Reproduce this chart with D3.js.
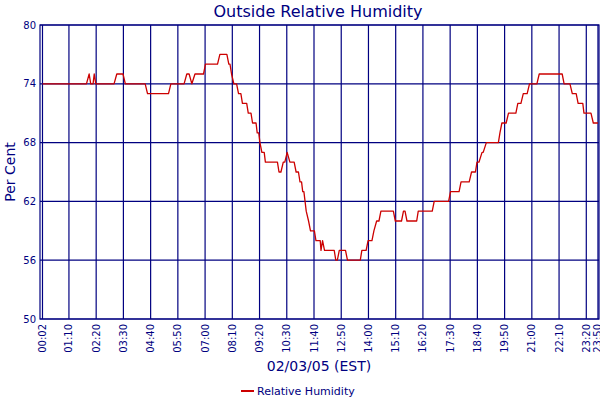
<!DOCTYPE html>
<html>
<head>
<meta charset="utf-8">
<script src="https://cdn.jsdelivr.net/npm/d3@7"></script>
<style>
  body { margin: 0; background: #fff; }
  svg { display: block; font-family: "DejaVu Sans", Verdana, sans-serif; }
</style>
</head>
<body>
<svg id="chart" width="600" height="400"></svg>
<script>
// readings, 02/03/05 (EST)
var times = ["00:02","01:55","02:02","02:06","02:12","02:15","02:19","03:06","03:13","03:29","03:35",
  "04:26","04:32","05:26","05:32","06:06","06:13","06:19","06:26","06:34","06:56","07:01","07:32","07:38",
  "07:56","08:01","08:04","08:08","08:14","08:21","08:26","08:32","08:36","08:47","08:51","08:58","09:02",
  "09:11","09:14","09:18","09:21","09:26","09:32","09:35","10:06","10:10","10:15","10:21","10:25","10:31",
  "10:38","10:49","10:54","11:00","11:04","11:08","11:11","11:14","11:17","11:20","11:26","11:31","11:41",
  "11:45","11:56","11:58","12:02","12:07","12:32","12:36","12:40","12:45","13:01","13:06","13:39","13:43",
  "13:54","13:59","14:09","14:14","14:21","14:27","14:32","15:04","15:09","15:25","15:30","15:34","15:39",
  "16:04","16:08","16:44","16:49","17:26","17:31","17:53","17:58","18:19","18:25","18:35","18:39","18:44",
  "18:52","18:55","19:03","19:34","19:38","19:43","19:54","20:00","20:19","20:24","20:32","20:38","20:48",
  "20:54","21:13","21:19","22:18","22:23","22:38","22:44","22:54","22:59","23:11","23:14","23:32","23:38","23:50"];
var humidity = [74,74,75,74,74,75,74,74,75,75,74,
  74,73,73,74,74,75,75,74,75,75,76,76,77,
  77,76,76,75,74,74,73,73,72,72,71,71,70,
  70,69,69,68,67,67,66,66,65,65,66,66,67,
  66,66,65,65,64,64,63,63,62,61,60,59,59,
  58,58,57,58,57,57,56,56,57,57,56,56,57,
  57,58,58,59,60,60,61,61,60,60,61,61,60,
  60,61,61,62,62,63,63,64,64,65,65,66,66,
  67,67,68,68,69,70,70,71,71,72,72,73,73,
  74,74,75,75,74,74,73,73,72,72,71,71,70,70];

var xTickLabels = ["00:02","01:10","02:20","03:30","04:40","05:50","07:00","08:10","09:20","10:30","11:40",
  "12:50","14:00","15:10","16:20","17:30","18:40","19:50","21:00","22:10","23:20","23:50"];
var yTicks = [50, 56, 62, 68, 74, 80];

var navy = "#000080";
var parseTime = d3.timeParse("%H:%M");
var data = times.map((t, i) => ({x: parseTime(t), y: humidity[i]}));

var svg = d3.select("#chart");
var plotLeft = 40, plotRight = 599, plotTop = 25, plotBottom = 319;

var x = d3.scaleTime()
    .domain([d3.timeSecond.offset(parseTime("00:00"), -264), d3.timeSecond.offset(parseTime("23:50"), 160)])
    .range([plotLeft, plotRight]);
var y = d3.scaleLinear()
    .domain([50, 80])
    .range([plotBottom, plotTop]);

// grid
var grid = svg.append("g").attr("stroke", navy).attr("stroke-width", 1.2);
grid.selectAll(".v").data(xTickLabels).join("line")
    .attr("x1", d => x(parseTime(d))).attr("x2", d => x(parseTime(d)))
    .attr("y1", plotTop).attr("y2", plotBottom);
grid.selectAll(".h").data(yTicks).join("line")
    .attr("x1", plotLeft).attr("x2", plotRight)
    .attr("y1", d => y(d)).attr("y2", d => y(d));
svg.append("rect")
    .attr("x", plotLeft).attr("y", plotTop)
    .attr("width", plotRight - plotLeft).attr("height", plotBottom - plotTop)
    .attr("fill", "none").attr("stroke", navy).attr("stroke-width", 1.2);

// axes labels
svg.append("g").selectAll("text").data(yTicks).join("text")
    .attr("x", plotLeft - 4).attr("y", d => y(d)).attr("dy", "0.35em")
    .attr("text-anchor", "end").attr("font-size", 10).attr("fill", navy)
    .text(d => d);

svg.append("g").selectAll("text").data(xTickLabels).join("text")
    .attr("transform", d => `translate(${x(parseTime(d))},${plotBottom + 5}) rotate(-90)`)
    .attr("dy", "0.35em").attr("text-anchor", "end")
    .attr("font-size", 10).attr("fill", navy)
    .text(d => d);

// line
var line = d3.line()
    .x(d => x(d.x))
    .y(d => y(d.y));
svg.append("path")
    .datum(data)
    .attr("fill", "none")
    .attr("stroke", "#cc0000")
    .attr("stroke-width", 1.3)
    .attr("stroke-linejoin", "round")
    .attr("d", line);

// titles
svg.append("text")
    .attr("x", 318).attr("y", 17).attr("text-anchor", "middle")
    .attr("font-size", 16).attr("fill", navy)
    .text("Outside Relative Humidity");
svg.append("text")
    .attr("transform", `translate(15,${(plotTop + plotBottom) / 2}) rotate(-90)`)
    .attr("text-anchor", "middle").attr("font-size", 14).attr("fill", navy)
    .text("Per Cent");
svg.append("text")
    .attr("x", 319).attr("y", 371).attr("text-anchor", "middle")
    .attr("font-size", 14).attr("fill", navy)
    .text("02/03/05 (EST)");

// legend
var legend = svg.append("g").attr("transform", "translate(241,391)");
legend.append("line")
    .attr("x1", 0).attr("x2", 13).attr("y1", 0).attr("y2", 0)
    .attr("stroke", "#cc0000").attr("stroke-width", 2);
legend.append("text")
    .attr("x", 16).attr("y", 4).attr("font-size", 11).attr("fill", navy)
    .text("Relative Humidity");
</script>
</body>
</html>
